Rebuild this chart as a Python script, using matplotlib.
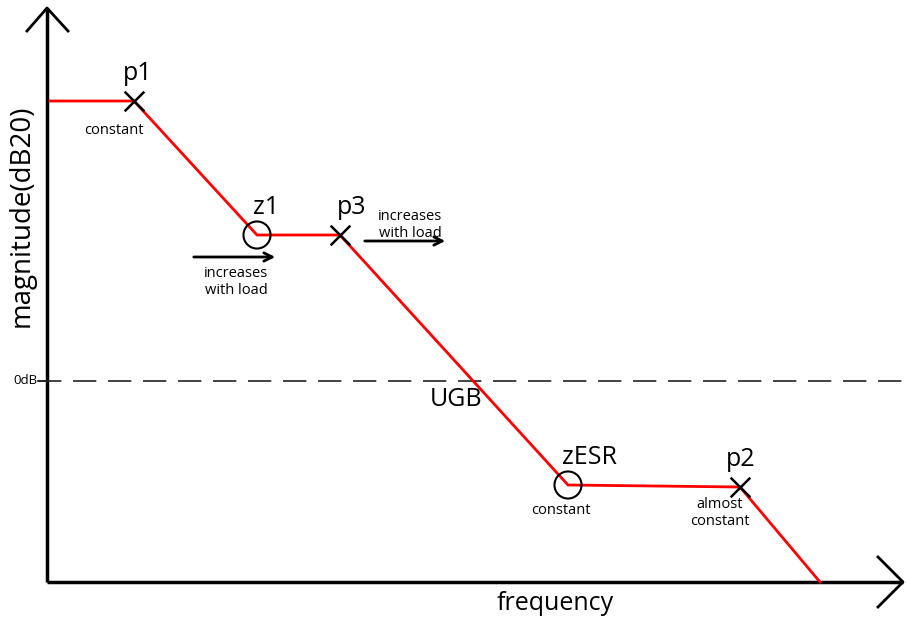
import matplotlib.pyplot as plt

# asymptotic magnitude curve (drawing units: x = frequency position, y = magnitude position)
curve_x = [50, 134, 257, 340, 568, 740, 820]
curve_y = [520, 520, 386, 386, 136, 134, 39]

pole_x = [134, 340, 740]
pole_y = [520, 386, 134]
pole_names = ['p1', 'p3', 'p2']

zero_x = [257, 568]
zero_y = [386, 136]
zero_names = ['z1', 'zESR']

zero_db = 240
axis_x0, axis_y0 = 47, 39

plt.rcParams['font.family'] = ['Open Sans', 'DejaVu Sans']

fig = plt.figure(figsize=(9.06, 6.21), dpi=100)
ax = fig.add_axes([0, 0, 1, 1])
ax.set_xlim(0, 906)
ax.set_ylim(0, 621)
ax.axis('off')

# axes with open arrow heads
ax.plot([axis_x0, axis_x0], [axis_y0, 613], color='black', lw=2.5, solid_capstyle='butt')
ax.plot([27, 47, 68], [590, 613, 590], color='black', lw=2)
ax.plot([axis_x0, 903], [axis_y0, axis_y0], color='black', lw=2.5, solid_capstyle='butt')
ax.plot([878, 903, 878], [64, 39, 14], color='black', lw=2)

# 0dB line
ax.plot([38, 906], [zero_db, zero_db], color='#222222', lw=1.2, dashes=(14, 7))
ax.plot([38, 47], [zero_db, zero_db], color='#222222', lw=1.2)
ax.text(37, zero_db, '0dB', fontsize=9.5, ha='right', va='center')

# magnitude curve
ax.plot(curve_x, curve_y, color='red', lw=2, zorder=3)
ax.scatter(pole_x, pole_y, marker='x', s=200, color='black', linewidths=1.8, zorder=4)
ax.scatter(zero_x, zero_y, marker='o', s=380, facecolors='none', edgecolors='black',
           linewidths=1.5, zorder=4)

big = 18
small = 10.5
for name, x, y in zip(pole_names, pole_x, pole_y):
    dx = {'p1': 4, 'p3': 12, 'p2': 1}[name]
    ax.text(x + dx, y + 28, name, fontsize=big, ha='center', va='center')
for name, x, y in zip(zero_names, zero_x, zero_y):
    dx = {'z1': 9, 'zESR': 21}[name]
    ax.text(x + dx, y + 28, name, fontsize=big, ha='center', va='center')
ax.text(456, 221, 'UGB', fontsize=big, ha='center', va='center')

ax.text(114, 490, 'constant', fontsize=small, ha='center', va='center')
ax.text(561, 110, 'constant', fontsize=small, ha='center', va='center')
ax.text(720, 108, 'almost\nconstant', fontsize=small, ha='center', va='center', linespacing=1.2)
ax.text(236, 339, 'increases\nwith load', fontsize=small, ha='center', va='center', linespacing=1.2)
ax.text(410, 396, 'increases\nwith load', fontsize=small, ha='center', va='center', linespacing=1.2)

arrow = dict(arrowstyle='->', color='black', lw=2, mutation_scale=15)
ax.annotate('', xy=(278, 364), xytext=(191, 364), arrowprops=arrow)
ax.annotate('', xy=(448, 380), xytext=(362, 380), arrowprops=arrow)

ax.text(22, 405, 'magnitude(dB20)', fontsize=20, rotation=90, ha='center', va='center')
ax.text(555, 17, 'frequency', fontsize=big, ha='center', va='center')

fig.savefig('out.png', dpi=100)
